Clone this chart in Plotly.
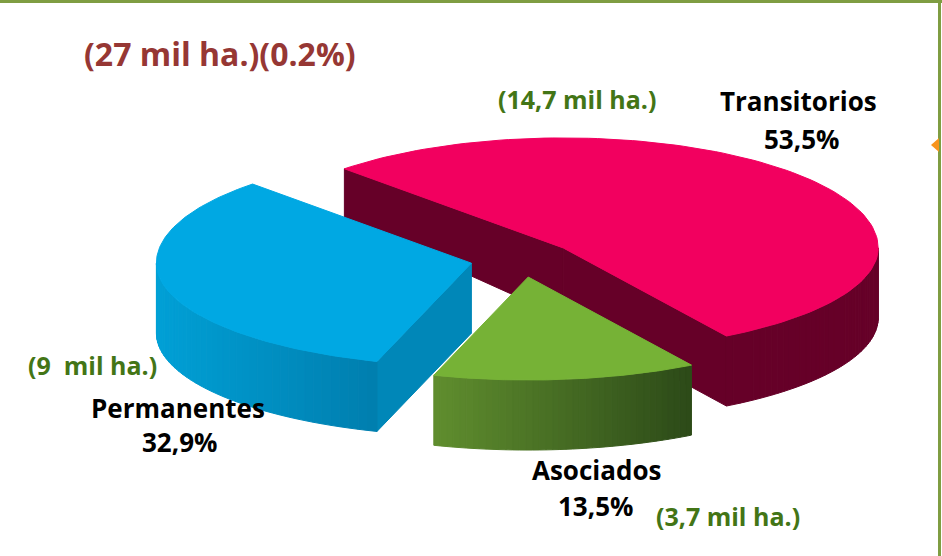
import numpy as np
import plotly.graph_objects as go

# ---------------- data ----------------
categories = ["Transitorios", "Asociados", "Permanentes"]
shares = [53.5, 13.5, 32.9]
area_labels = ["(14,7 mil ha.)", "(3,7 mil ha.)", "(9\u00a0 mil ha.)"]
title_text = "(27 mil ha.)(0.2%)"

# ---------------- style ----------------
top_colors = ["#F2005F", "#76B236", "#00A8E3"]
wall_grad = [((102, 0, 40), (102, 0, 40)),
             ((96, 142, 46), (44, 74, 24)),
             ((0, 160, 214), (0, 126, 174))]
cut_colors = ["#660028", "#4C7A2A", "#0087B8"]

W, H = 942, 556
CX, CY = 522, 259
RX, RY_BACK, RY_FRONT = 315, 110, 103
PULL = 52
START = 134.0


def depth(y):
    return float(np.clip(50 + 0.25 * (y - 170), 50, 70))


def ell(ax, ay, phi):
    p = np.radians(phi)
    s = np.sin(p)
    ry = np.where(s >= 0, RY_BACK, RY_FRONT)
    return ax + RX * np.cos(p), ay - ry * s


def rgb(c):
    return "rgb(%d,%d,%d)" % tuple(int(round(v)) for v in c)


fig = go.Figure()


def poly(xs, ys, color, name):
    xs = [float(v) for v in xs]
    ys = [float(v) for v in ys]
    fig.add_trace(go.Scatter(
        x=xs + [xs[0]], y=ys + [ys[0]], mode="lines",
        fill="toself", fillcolor=color, line=dict(color=color, width=1),
        hoverinfo="skip", showlegend=False, name=name))


total = sum(shares)
slices = []
cum = 0.0
for i, v in enumerate(shares):
    a1 = START - 360.0 * cum / total
    a2 = a1 - 360.0 * v / total
    cum += v
    mid = (a1 + a2) / 2
    axp = CX + PULL * np.cos(np.radians(mid))
    ayp = CY - PULL * np.sin(np.radians(mid)) * RY_BACK / RX
    slices.append((i, a1, a2, mid, axp, ayp))

# back to front
slices.sort(key=lambda s: -np.sin(np.radians(s[3])))

for i, a1, a2, mid, axp, ayp in slices:
    name = categories[i]
    # cut faces
    for e, nrm in ((a1, a1 + 90), (a2, a2 - 90)):
        if np.sin(np.radians(nrm)) < 0:
            px, py = ell(axp, ayp, e)
            xs = [axp, px, px, axp]
            ys = [ayp, py, py + depth(py), ayp + depth(ayp)]
            poly(xs, ys, cut_colors[i], name)
    # outer wall (front part)
    for k in (-1, 0, 1):
        lo = max(a2, -180 + 360 * k)
        hi = min(a1, 360 * k)
        if hi - lo <= 0.01:
            continue
        n = 40
        edges = np.linspace(lo, hi, n + 1)
        xsall = [float(ell(axp, ayp, a)[0]) for a in edges]
        xmin, xmax = min(xsall), max(xsall)
        c0, c1 = wall_grad[i]
        for j in range(n):
            ph = np.linspace(edges[j], edges[j + 1], 4)
            tx, ty = ell(axp, ayp, ph)
            dy = np.array([depth(v) for v in ty])
            bx, by = tx[::-1], (ty + dy)[::-1]
            xm = 0.5 * (tx[0] + tx[-1])
            f = (xm - xmin) / (xmax - xmin) if xmax > xmin else 0
            col = tuple(c0[q] + (c1[q] - c0[q]) * f for q in range(3))
            poly(list(tx) + list(bx), list(ty) + list(by), rgb(col), name)
    # top face
    ph = np.linspace(a1, a2, 120)
    tx, ty = ell(axp, ayp, ph)
    poly([axp] + list(tx), [ayp] + list(ty), top_colors[i], name)

# ---------------- labels ----------------
FONT = "'Open Sans', 'Noto Sans', sans-serif"
GREEN_TXT = "#437516"
pct = [f"{v:.1f}".replace(".", ",") + "%" for v in shares]
label_pos = {  # name label, percent label, area label centres
    "Transitorios": ((798, 101), (801, 139), (577, 99)),
    "Asociados": ((596, 470), (595, 506), (728, 516)),
    "Permanentes": ((178, 408), (179, 442), (92, 365)),
}
ann = []
for i, c in enumerate(categories):
    (nx, ny), (px_, py_), (gx, gy) = label_pos[c]
    ann.append(dict(x=nx, y=ny, text="<b>%s</b>" % c, font=dict(size=26, color="#000000", family=FONT)))
    ann.append(dict(x=px_, y=py_, text="<b>%s</b>" % pct[i], font=dict(size=26, color="#000000", family=FONT)))
    ann.append(dict(x=gx, y=gy, text="<b>%s</b>" % area_labels[i], font=dict(size=25, color=GREEN_TXT, family=FONT)))
ann.append(dict(x=220, y=53, text="<b>%s</b>" % title_text, font=dict(size=32, color="#963734", family=FONT)))
for a in ann:
    a.update(xref="x", yref="y", showarrow=False, xanchor="center", yanchor="middle")

fig.update_layout(
    width=W, height=H, autosize=False,
    margin=dict(l=0, r=0, t=0, b=0),
    paper_bgcolor="white", plot_bgcolor="white",
    xaxis=dict(range=[0, W], visible=False, fixedrange=True),
    yaxis=dict(range=[H, 0], visible=False, fixedrange=True),
    showlegend=False,
    annotations=ann,
    shapes=[
        dict(type="line", xref="x", yref="y", x0=0, x1=W, y0=1.5, y1=1.5,
             line=dict(color="#7F9D42", width=3)),
        dict(type="line", xref="x", yref="y", x0=939.5, x1=939.5, y0=0, y1=H,
             line=dict(color="#7F9D42", width=3)),
        dict(type="path", xref="x", yref="y", path="M 931 145 L 939 138 L 939 152 Z",
             fillcolor="#F7941D", line=dict(width=0)),
    ],
)

fig.write_html("out.html", config={"displayModeBar": False},
               post_script="document.body.style.margin='0';document.body.style.overflow='hidden';")
